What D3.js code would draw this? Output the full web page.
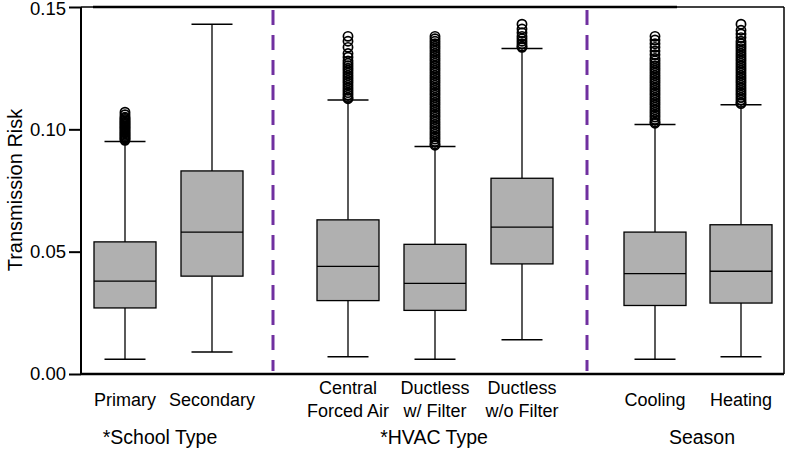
<!DOCTYPE html>
<html>
<head>
<meta charset="utf-8">
<script src="https://cdn.jsdelivr.net/npm/d3@7"></script>
<style>
  html, body { margin: 0; padding: 0; background: #fff; }
  svg { display: block; font-family: "Liberation Sans", Arial, sans-serif; }
</style>
</head>
<body>
<svg id="chart" width="787" height="449"></svg>
<script>
// ---- data ----
const categories = ["Primary", "Secondary", "Central Forced Air", "Ductless w/ Filter", "Ductless w/o Filter", "Cooling", "Heating"];
const labelLines = [["Primary"], ["Secondary"], ["Central", "Forced Air"], ["Ductless", "w/ Filter"], ["Ductless", "w/o Filter"], ["Cooling"], ["Heating"]];
const groups = ["*School Type", "*HVAC Type", "Season"];
const groupMembers = [["Primary", "Secondary"], ["Central Forced Air", "Ductless w/ Filter", "Ductless w/o Filter"], ["Cooling", "Heating"]];
const whiskerLow  = [0.006, 0.009, 0.007, 0.006, 0.014, 0.006, 0.007];
const q1          = [0.027, 0.040, 0.030, 0.026, 0.045, 0.028, 0.029];
const median      = [0.038, 0.058, 0.044, 0.037, 0.060, 0.041, 0.042];
const q3          = [0.054, 0.083, 0.063, 0.053, 0.080, 0.058, 0.061];
const whiskerHigh = [0.095, 0.143, 0.112, 0.093, 0.133, 0.102, 0.110];
const outliers = [
  [0.0955,0.096,0.0965,0.097,0.0975,0.098,0.0985,0.099,0.0995,0.100,0.1005,0.101,0.1015,0.102,0.1025,0.103,0.1035,0.104,0.1045,0.105,0.106,0.107],
  [],
  [0.1125,0.113,0.114,0.115,0.116,0.117,0.118,0.119,0.120,0.121,0.122,0.123,0.124,0.125,0.126,0.127,0.128,0.1295,0.131,0.1335,0.136,0.138],
  [0.0935,0.094,0.095,0.096,0.097,0.098,0.099,0.100,0.101,0.102,0.103,0.104,0.105,0.106,0.107,0.108,0.109,0.110,0.111,0.112,0.113,0.114,0.115,0.116,0.117,0.118,0.119,0.120,0.121,0.122,0.123,0.124,0.125,0.126,0.127,0.128,0.129,0.130,0.131,0.132,0.133,0.134,0.135,0.136,0.137,0.138],
  [0.1335,0.134,0.135,0.136,0.137,0.138,0.1395,0.141,0.143],
  [0.1025,0.103,0.104,0.105,0.106,0.107,0.108,0.109,0.110,0.111,0.112,0.113,0.114,0.115,0.116,0.117,0.118,0.119,0.120,0.121,0.122,0.123,0.124,0.125,0.126,0.127,0.128,0.129,0.1305,0.132,0.1335,0.135,0.1365,0.138],
  [0.1105,0.111,0.112,0.113,0.114,0.115,0.116,0.117,0.118,0.119,0.120,0.121,0.122,0.123,0.124,0.125,0.126,0.127,0.128,0.129,0.130,0.131,0.132,0.133,0.134,0.135,0.136,0.1375,0.139,0.1405,0.143]
];
const yTicks = [0.00, 0.05, 0.10, 0.15];
const yTitle = "Transmission Risk";

(function () {
// ---- layout ----
const svg = d3.select("#chart");
const mLeft = 81, mRight = 784, mTop = 7, mBottom = 374;
const y = d3.scaleLinear().domain([0, 0.15]).range([mBottom, mTop]);
const x = d3.scaleOrdinal().domain(categories).range([125, 212, 348, 435, 522, 655, 741]);
const boxW = 62;
const capW = 41;
const dividers = [273, 587];
const groupCenters = [160, 434, 702];

// frame
svg.append("line").attr("x1", mLeft).attr("x2", mRight).attr("y1", mTop).attr("y2", mTop)
  .attr("stroke", "#000").attr("stroke-width", 1.5);
svg.append("line").attr("x1", 93).attr("x2", 677).attr("y1", mTop).attr("y2", mTop)
  .attr("stroke", "#000").attr("stroke-width", 2.6);
svg.append("line").attr("x1", mRight).attr("x2", mRight).attr("y1", mTop).attr("y2", mBottom)
  .attr("stroke", "#000").attr("stroke-width", 1.5);
svg.append("line").attr("x1", mLeft).attr("x2", mRight).attr("y1", mBottom).attr("y2", mBottom)
  .attr("stroke", "#000").attr("stroke-width", 2.6);

// y axis
const yAxis = d3.axisLeft(y).tickValues(yTicks).tickFormat(d3.format(".2f")).tickSize(12).tickPadding(3);
const gy = svg.append("g").attr("transform", `translate(${mLeft},0)`).call(yAxis);
gy.select(".domain").attr("stroke-width", 2).attr("d", `M0,${mTop}V${mBottom}`);
gy.selectAll(".tick line").attr("stroke-width", 2);
gy.selectAll(".tick text").attr("font-size", 18.5).attr("fill", "#000")
  .attr("font-family", "Liberation Sans, Arial, sans-serif")
  .attr("dy", d => d === 0.15 ? "0.42em" : "0.32em");

svg.append("text").attr("transform", `translate(22,190) rotate(-90)`)
  .attr("text-anchor", "middle").attr("font-size", 20).attr("fill", "#000").text(yTitle);

// dividers
dividers.forEach(dx => {
  svg.append("line").attr("x1", dx).attr("x2", dx).attr("y1", 10).attr("y2", 371)
    .attr("stroke", "#7030A0").attr("stroke-width", 3).attr("stroke-dasharray", "15,10");
});

// boxes
const g = svg.append("g");
categories.forEach((c, i) => {
  const cx = x(c), w = boxW;
  g.append("line").attr("x1", cx).attr("x2", cx).attr("y1", y(whiskerLow[i])).attr("y2", y(q1[i]))
    .attr("stroke", "#000").attr("stroke-width", 1.3);
  g.append("line").attr("x1", cx).attr("x2", cx).attr("y1", y(q3[i])).attr("y2", y(whiskerHigh[i]))
    .attr("stroke", "#000").attr("stroke-width", 1.3);
  g.append("line").attr("x1", cx - capW / 2).attr("x2", cx + capW / 2).attr("y1", y(whiskerLow[i])).attr("y2", y(whiskerLow[i]))
    .attr("stroke", "#000").attr("stroke-width", 1.5);
  g.append("line").attr("x1", cx - capW / 2).attr("x2", cx + capW / 2).attr("y1", y(whiskerHigh[i])).attr("y2", y(whiskerHigh[i]))
    .attr("stroke", "#000").attr("stroke-width", 1.5);
  g.append("rect").attr("x", cx - w / 2).attr("width", w)
    .attr("y", y(q3[i])).attr("height", y(q1[i]) - y(q3[i]))
    .attr("fill", "#b0b0b0").attr("stroke", "#000").attr("stroke-width", 1.3);
  g.append("line").attr("x1", cx - w / 2).attr("x2", cx + w / 2).attr("y1", y(median[i])).attr("y2", y(median[i]))
    .attr("stroke", "#000").attr("stroke-width", 1.3);
  g.selectAll(null).data(outliers[i]).enter().append("circle")
    .attr("cx", cx).attr("cy", d => y(d)).attr("r", 4.6)
    .attr("fill", "none").attr("stroke", "#000").attr("stroke-width", 1.7);
});

// category labels
categories.forEach((c, i) => {
  const lines = labelLines[i];
  const t = svg.append("text").attr("text-anchor", "middle").attr("font-size", 18).attr("fill", "#000");
  const y0 = lines.length === 1 ? 406 : 394;
  lines.forEach((ln, j) => {
    t.append("tspan").attr("x", x(c)).attr("y", y0 + j * 23).text(ln);
  });
});

// group labels
groups.forEach((gname, k) => {
  svg.append("text").attr("x", groupCenters[k]).attr("y", 444).attr("text-anchor", "middle")
    .attr("font-size", 19.5).attr("fill", "#000").text(gname);
});
})();
</script>
</body>
</html>
